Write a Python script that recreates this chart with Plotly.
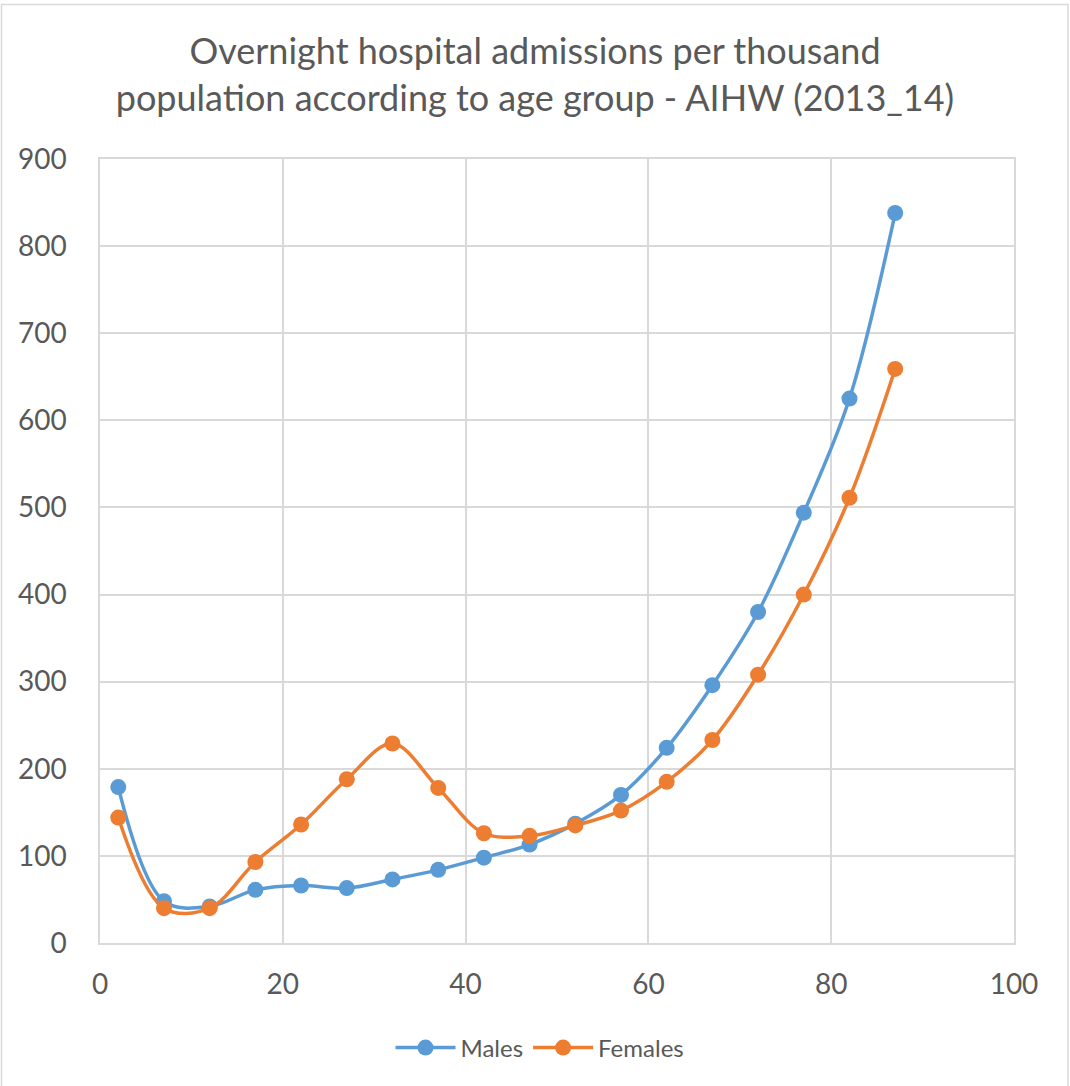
import plotly.graph_objects as go

ages = [2, 7, 12, 17, 22, 27, 32, 37, 42, 47, 52, 57, 62, 67, 72, 77, 82, 87]
males = [179, 48, 42, 61, 66, 63, 73, 84, 98, 113, 137, 170, 224, 296, 380, 494, 625, 838]
females = [144, 40, 40, 93, 136, 188, 229, 178, 126, 123, 135, 152, 185, 233, 308, 400, 511, 659]

x_ticks = [0, 20, 40, 60, 80, 100]
y_ticks = [0, 100, 200, 300, 400, 500, 600, 700, 800, 900]

title_text = "Overnight hospital admissions per thousand<br>population according to age group - AIHW (2013_14)"

FONT = "Lato"
GREY = "#595959"
GRID = "#d9d9d9"

fig = go.Figure()
fig.add_trace(go.Scatter(
    x=ages, y=males, name="Males", mode="lines+markers",
    line=dict(color="#5B9BD5", width=3.5, shape="spline", smoothing=1.0),
    marker=dict(color="#5B9BD5", size=16),
))
fig.add_trace(go.Scatter(
    x=ages, y=females, name="Females", mode="lines+markers",
    line=dict(color="#ED7D31", width=3.5, shape="spline", smoothing=1.0),
    marker=dict(color="#ED7D31", size=16),
))

W, H = 1070, 1086
L, T = 100, 159
pw, ph = 914, 784
R, B = W - L - pw, H - T - ph


def px2paper_x(px):
    return (px - L) / pw


def px2paper_y(py):
    return (T + ph - py) / ph


fig.add_shape(type="rect", xref="paper", yref="paper",
              x0=px2paper_x(1.5), x1=px2paper_x(1068), y0=px2paper_y(1100), y1=px2paper_y(4.5),
              line=dict(color=GRID, width=1.5), fillcolor="rgba(0,0,0,0)", layer="below")

fig.update_layout(
    width=W, height=H,
    margin=dict(l=L, r=R, t=T, b=B),
    paper_bgcolor="white", plot_bgcolor="white",
    font=dict(family=FONT, color=GREY),
    title=dict(text=title_text, x=535 / W, xanchor="center", xref="container",
               y=1 - 64 / H, yanchor="middle", yref="container",
               font=dict(family=FONT, size=36, color=GREY)),
    showlegend=True,
    legend=dict(orientation="h", x=px2paper_x(540), xanchor="center",
                y=px2paper_y(1048), yanchor="middle",
                font=dict(family=FONT, size=24, color=GREY),
                itemwidth=60, bgcolor="rgba(0,0,0,0)"),
    xaxis=dict(range=[0, 100], tickvals=x_ticks, showgrid=True, gridcolor=GRID, gridwidth=1.5,
               zeroline=False, showline=True, mirror=True, linecolor=GRID, linewidth=1.5,
               ticks="", ticklabelstandoff=16, tickfont=dict(family=FONT, size=28, color=GREY)),
    yaxis=dict(range=[0, 900], tickvals=y_ticks, showgrid=True, gridcolor=GRID, gridwidth=1.5,
               zeroline=False, showline=True, mirror=True, linecolor=GRID, linewidth=1.5,
               ticks="", ticklabelstandoff=26, tickfont=dict(family=FONT, size=28, color=GREY)),
)

fig.write_html("out.html", config={"displayModeBar": False},
               post_script="document.body.style.margin='0';document.body.style.overflow='hidden';")
